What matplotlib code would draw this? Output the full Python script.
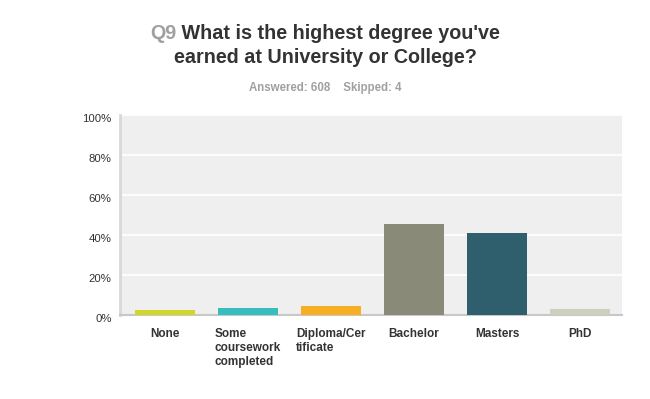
import matplotlib
matplotlib.use("Agg")
import matplotlib.pyplot as plt
import matplotlib.transforms as mtransforms

categories = ["None", "Some\ncoursework\ncompleted", "Diploma/Cer\ntificate",
              "Bachelor", "Masters", "PhD"]
percents = [2.2, 3.1, 4.2, 45.3, 40.7, 2.7]
colors = ["#D2D52C", "#36BDBE", "#F6AE23", "#8A8A79", "#2F5F6C", "#CFCFC0"]
yticks = [0, 20, 40, 60, 80, 100]

plt.rcParams["font.family"] = ["Liberation Sans", "DejaVu Sans"]

fig = plt.figure(figsize=(6.5, 3.99), dpi=100)
W, H = 650, 399
ax = fig.add_axes([120 / W, 1 - 314.5 / H, 502 / W, 200 / H])
ax.set_facecolor("#EFEFEF")

x = range(len(categories))
ax.bar(x, percents, width=0.72, color=colors, zorder=3)
ax.set_xlim(-0.542, 5.506)
ax.set_ylim(0, 100)
ax.set_yticks(yticks)
ax.set_yticklabels([f"{v}%" for v in yticks], fontsize=8.2, color="#333333")
ax.yaxis.grid(True, color="white", linewidth=1.2, zorder=1)
ax.tick_params(axis="y", length=0, pad=6)
# labels sit a little below their gridline, as in the original
shift = mtransforms.ScaledTranslation(0, -4 / 100, fig.dpi_scale_trans)
for lab in ax.get_yticklabels():
    lab.set_transform(lab.get_transform() + shift)
ax.set_xticks(list(x))
ax.set_xticklabels(categories, fontsize=8.5, fontweight="bold", color="#333333",
                   va="top", ha="center", multialignment="left")
ax.tick_params(axis="x", length=0, pad=10)

for s in ["top", "right"]:
    ax.spines[s].set_visible(False)
ax.spines["left"].set_color("#D8D8D8")
ax.spines["left"].set_linewidth(2)
ax.spines["bottom"].set_color("#C8C8C8")
ax.spines["bottom"].set_linewidth(1.5)

# title, first line in two colours, centred as a whole
tsize = 14.2
r = fig.canvas.get_renderer()
t1 = fig.text(0, 1 - 39 / H, "Q9", fontsize=tsize, fontweight="bold",
              color="#A0A0A0", va="baseline", ha="left")
t2 = fig.text(0, 1 - 39 / H, " What is the highest degree you've", fontsize=tsize,
              fontweight="bold", color="#333333", va="baseline", ha="left")
w1 = t1.get_window_extent(r).width
w2 = t2.get_window_extent(r).width
x0 = 325 - (w1 + w2) / 2
t1.set_x(x0 / W)
t2.set_x((x0 + w1) / W)
fig.text(325.5 / W, 1 - 63 / H, "earned at University or College?",
         fontsize=tsize, fontweight="bold", color="#333333",
         va="baseline", ha="center")
fig.text(325 / W, 1 - 91 / H, "Answered: 608    Skipped: 4", fontsize=8.3,
         fontweight="bold", color="#A0A0A0", va="baseline", ha="center")

fig.savefig("out.png", dpi=100)
